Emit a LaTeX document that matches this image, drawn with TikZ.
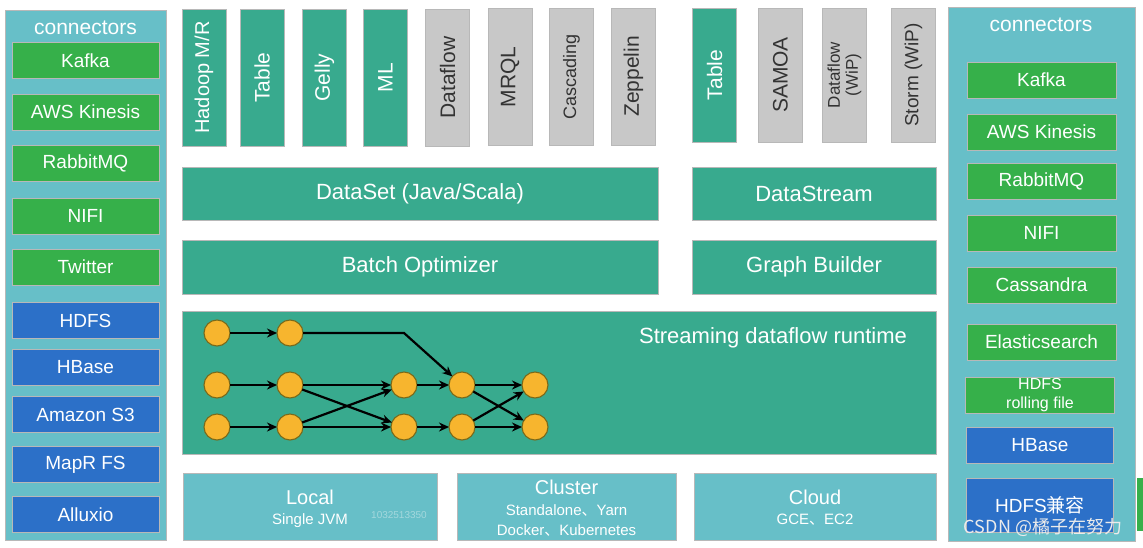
\documentclass[tikz,border=0pt]{standalone}
\usepackage{fontspec}
\setmainfont{Liberation Sans}
\newfontfamily\cjk{Noto Sans CJK SC}
\usetikzlibrary{arrows.meta}
\definecolor{libteal}{HTML}{38AA8E}
\definecolor{libgray}{HTML}{C8C8C8}
\definecolor{cgreen}{HTML}{36B04A}
\definecolor{cblue}{HTML}{2C70C8}
\definecolor{colbg}{HTML}{67BFC8}
\definecolor{gold}{HTML}{F7B52E}
\definecolor{goldedge}{HTML}{7A6A1A}
\definecolor{darktext}{HTML}{333333}
\definecolor{wmark}{HTML}{A4D8DD}
\begin{document}
\begin{tikzpicture}[x=1pt,y=-1pt,
  every node/.style={inner sep=0pt, outer sep=0pt},
  box/.style={rectangle, draw=black!28, line width=0.6pt, align=center},
  fs/.style={font=\fontsize{#1}{#1}\selectfont},
  colbox/.style={box, fill=colbg, minimum width=#1},
  coltitle/.style={text=white, fs=21},
  conn/.style={box, fill=cgreen, text=white, minimum height=36pt, fs=19},
  connb/.style={conn, fill=cblue},
  libT/.style={box, fill=libteal, text=white, rotate=90, minimum height=44pt, fs=21},
  libG/.style={box, fill=libgray, text=darktext, rotate=90, minimum height=44pt, fs=21},
  layer/.style={box, fill=libteal, text=white, fs=22},
  deploy/.style={box, fill=colbg, text=white, minimum height=67pt},
  gnode/.style={circle, fill=gold, draw=goldedge, line width=1.1pt, minimum size=26pt},
  garr/.style={-{Stealth[length=10pt,width=9pt]}, line width=2.2pt, black}
]
\useasboundingbox (0,0) rectangle (1143,547);
\fill[white] (0,0) rectangle (1143,547);

% ---------- left connector column
\node[colbox=161pt, minimum height=530pt] (colL) at (85.5,275) {};
\node[coltitle] (colLt) at (85.5,28) {connectors};
\node[conn, minimum width=147pt] (lkafka) at (85.5,60.5) {Kafka};
\node[conn, minimum width=147pt] (laws) at (85.5,112) {AWS Kinesis};
\node[conn, minimum width=147pt] (lrabbit) at (85.5,163.5) {RabbitMQ};
\node[conn, minimum width=147pt] (lnifi) at (85.5,216) {NIFI};
\node[conn, minimum width=147pt] (ltwitter) at (85.5,267) {Twitter};
\node[connb, minimum width=147pt] (lhdfs) at (85.5,320.5) {HDFS};
\node[connb, minimum width=147pt] (lhbase) at (85.5,367.5) {HBase};
\node[connb, minimum width=147pt] (ls3) at (85.5,414.5) {Amazon S3};
\node[connb, minimum width=147pt] (lmapr) at (85.5,464.5) {MapR FS};
\node[connb, minimum width=147pt] (lalluxio) at (85.5,514.5) {Alluxio};

% ---------- right connector column
\node[colbox=187pt, minimum height=534pt] (colR) at (1041.5,274) {};
\node[coltitle] (colRt) at (1041,25) {connectors};
\node[conn, minimum width=149pt] (rkafka) at (1041.5,80) {Kafka};
\node[conn, minimum width=149pt] (raws) at (1041.5,132) {AWS Kinesis};
\node[conn, minimum width=149pt] (rrabbit) at (1041.5,181.5) {RabbitMQ};
\node[conn, minimum width=149pt] (rnifi) at (1041.5,233) {NIFI};
\node[conn, minimum width=149pt] (rcass) at (1041.5,285) {Cassandra};
\node[conn, minimum width=149pt] (relastic) at (1041.5,342) {Elasticsearch};
\node[conn, minimum width=149pt, font=\fontsize{16}{19}\selectfont] (rroll) at (1040,395) {HDFS\\rolling file};
\node[connb, minimum width=147pt] (rhbase) at (1040,445.5) {HBase};
\node[connb, minimum width=147pt, minimum height=54pt] (rhdfs) at (1040,505) {HDFS{\cjk 兼容}};
\fill[cgreen] (1137,478) rectangle (1143,531);

% ---------- library boxes (batch)
\node[libT, minimum width=137pt, fs=20] (hadoop) at (204,77.5) {Hadoop M/R};
\node[libT, minimum width=137pt] (table1) at (262,77.5) {Table};
\node[libT, minimum width=137pt] (gelly) at (324.5,77.5) {Gelly};
\node[libT, minimum width=137pt] (ml) at (385.5,77.5) {ML};
\node[libG, minimum width=137pt] (dataflow1) at (447.5,77.5) {Dataflow};
\node[libG, minimum width=137pt] (mrql) at (510,77) {MRQL};
\node[libG, minimum width=137pt, fs=18] (cascading) at (571.5,76.5) {Cascading};
\node[libG, minimum width=137pt] (zeppelin) at (633.5,76.5) {Zeppelin};
% ---------- library boxes (stream)
\node[libT, minimum width=134pt] (table2) at (714.5,75) {Table};
\node[libG, minimum width=134pt] (samoa) at (780.5,75) {SAMOA};
\node[libG, minimum width=134pt, font=\fontsize{17}{18}\selectfont] (dataflow2) at (844.5,75) {Dataflow\\(WiP)};
\node[libG, minimum width=134pt, fs=19] (storm) at (913.5,75) {Storm (WiP)};

% ---------- API / optimizer layers
\node[layer, minimum width=476pt, minimum height=53pt] (dataset) at (420,193.5) {DataSet (Java/Scala)};
\node[layer, minimum width=244pt, minimum height=53pt] (datastream) at (814,193.5) {DataStream};
\node[layer, minimum width=476pt, minimum height=54pt] (batchopt) at (420,267) {Batch Optimizer};
\node[layer, minimum width=244pt, minimum height=54pt] (graphb) at (814,267) {Graph Builder};

% ---------- runtime
\node[layer, minimum width=754pt, minimum height=143pt] (runtime) at (559,382.5) {};
\node[text=white, fs=22] (runtimet) at (773,338) {Streaming dataflow runtime};

\node[gnode] (a1) at (217,333) {};
\node[gnode] (a2) at (290,333) {};
\node[gnode] (b1) at (217,385) {};
\node[gnode] (b2) at (290,385) {};
\node[gnode] (b3) at (404,385) {};
\node[gnode] (b4) at (462,385) {};
\node[gnode] (b5) at (535,385) {};
\node[gnode] (c1) at (217,427) {};
\node[gnode] (c2) at (290,427) {};
\node[gnode] (c3) at (404,427) {};
\node[gnode] (c4) at (462,427) {};
\node[gnode] (c5) at (535,427) {};
\coordinate (bend) at (404,333);

\draw[garr] (a1) -- (a2);
\draw[garr] (a2.east) -- (bend) -- (b4);
\draw[garr] (b1) -- (b2);
\draw[garr] (c1) -- (c2);
\draw[garr] (b2) -- (b3);
\draw[garr] (b2) -- (c3);
\draw[garr] (c2) -- (b3);
\draw[garr] (c2) -- (c3);
\draw[garr] (b3) -- (b4);
\draw[garr] (c3) -- (c4);
\draw[garr] (b4) -- (b5);
\draw[garr] (b4) -- (c5);
\draw[garr] (c4) -- (b5);
\draw[garr] (c4) -- (c5);

% ---------- deployment
\node[deploy, minimum width=254pt] (local) at (310,506.5) {};
\node[text=white, fs=20] (localt) at (310,497) {Local};
\node[text=white, fs=15] (locals) at (310,521) {Single JVM};
\node[text=wmark, fs=10] (wm) at (399,515) {1032513350};

\node[deploy, minimum width=219pt] (cluster) at (566.5,506.5) {};
\node[text=white, fs=20] (clustert) at (566.5,487) {Cluster};
\node[text=white, fs=15] (clusters1) at (566.5,510) {Standalone{\cjk 、}Yarn};
\node[text=white, fs=15] (clusters2) at (566.5,530) {Docker{\cjk 、}Kubernetes};

\node[deploy, minimum width=242pt] (cloud) at (815,506.5) {};
\node[text=white, fs=20] (cloudt) at (815,497) {Cloud};
\node[text=white, fs=15] (clouds) at (815,520) {GCE{\cjk 、}EC2};

% ---------- watermark
\node[text=white!92!black, fs=18] (csdn) at (1043,527) {\cjk CSDN @橘子在努力};
\end{tikzpicture}
\end{document}
